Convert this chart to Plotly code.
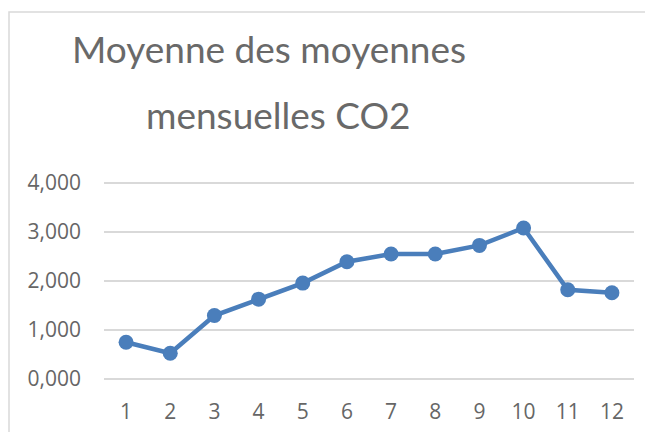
import plotly.graph_objects as go

months = [str(i) for i in range(1, 13)]
co2 = [750, 525, 1295, 1630, 1957, 2393, 2550, 2550, 2726, 3082, 1820, 1759]
y_ticks = [0, 1000, 2000, 3000, 4000]
y_tick_labels = ["0,000", "1,000", "2,000", "3,000", "4,000"]
title_lines = ["Moyenne des moyennes", "mensuelles CO2"]

# page body has an 8px margin, so layout is shifted by -8px
W, H = 653, 432
L, R, T, B = 96, 27, 173, 59
pw, ph = W - L - R, H - T - B
YPAD = 40

fig = go.Figure()
fig.add_trace(go.Scatter(
    x=months, y=co2, mode="lines+markers",
    line=dict(color="#4a7ebb", width=4.5),
    marker=dict(color="#4a7ebb", size=15),
    showlegend=False, hoverinfo="skip",
))

def px_x(p):
    return (p - L) / pw

def px_y(p):
    return 1 - (p - T) / ph

fig.add_shape(type="path", xref="paper", yref="paper",
              path=f"M {px_x(1)},-1 L {px_x(1)},{px_y(4)} L 1.2,{px_y(4)}",
              line=dict(color="#d9d9d9", width=1.5))

for txt, cx, cy in zip(title_lines, [261, 270], [40, 106]):
    fig.add_annotation(text=txt, xref="paper", yref="paper",
                       x=px_x(cx), y=px_y(cy), xanchor="center", yanchor="middle",
                       showarrow=False,
                       font=dict(size=37, color="#696969", family="Lato"))

fig.update_layout(
    width=W, height=H,
    margin=dict(l=L, r=R, t=T, b=B, autoexpand=False),
    paper_bgcolor="white", plot_bgcolor="white",
    font=dict(family="Open Sans", color="#666666"),
    xaxis=dict(type="category", range=[-0.5, 11.5], showgrid=False, zeroline=False,
               showline=False, ticks="", tickfont=dict(size=21, color="#666666"),
               ticklabelstandoff=16, automargin=False),
    yaxis=dict(range=[-YPAD, 4000 + YPAD], tickvals=y_ticks, ticktext=y_tick_labels,
               showgrid=True, gridcolor="#d9d9d9", gridwidth=1.5, zeroline=False,
               showline=False, ticks="", tickfont=dict(size=21, color="#666666"),
               ticklabelstandoff=22, automargin=False),
)

fig.write_html("out.html")
